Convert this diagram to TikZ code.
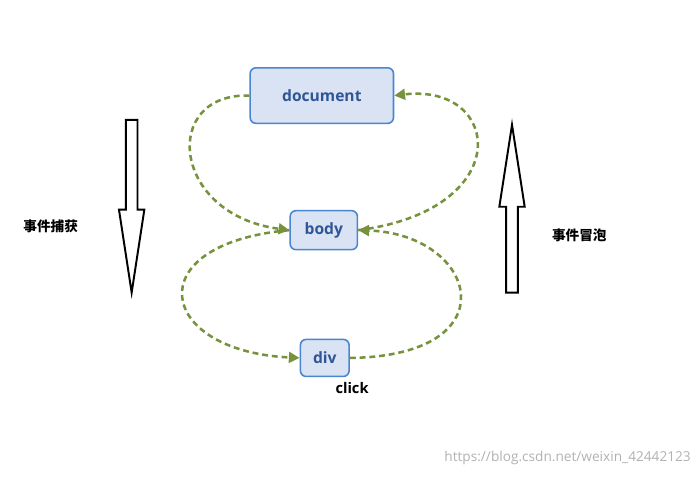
\documentclass[tikz,border=0pt]{standalone}
\usepackage{fontspec}
\setmainfont{Open Sans}
\newfontfamily\cjk{Noto Sans CJK SC}
\usetikzlibrary{arrows.meta}
\definecolor{boxfill}{HTML}{DAE3F3}
\definecolor{boxline}{HTML}{4A86D0}
\definecolor{boxtext}{HTML}{2F5597}
\definecolor{flow}{HTML}{76923C}
\begin{document}
\begin{tikzpicture}[x=1pt,y=-1pt,
  elem/.style={draw=boxline,fill=boxfill,rounded corners=6pt,line width=1.6pt,text=boxtext,font=\bfseries\fontsize{16}{19}\selectfont},
  flowline/.style={draw=flow,line width=2.6pt,dash pattern=on 6pt off 4pt,-{Triangle[length=11pt,width=11pt]}},
  hollow/.style={draw=black,line width=2pt,fill=white}]

\fill[white] (0,0) rectangle (694,491);

\node[elem,minimum width=147pt,minimum height=57pt] (doc) at (330,98) {document};
\node[elem,minimum width=69pt,minimum height=40pt] (body) at (332,236) {body};
\node[elem,minimum width=50pt,minimum height=38pt] (div) at (333,367) {div};
\node[font=\bfseries\fontsize{15}{18}\selectfont] (click) at (361,398) {click};

% hollow arrows
\draw[hollow] (129,123) -- (141,123) -- (141,215) -- (148,215) -- (135,300) -- (122,215) -- (129,215) -- cycle;
\draw[hollow] (519,300) -- (531,300) -- (531,212) -- (538,212) -- (525,128) -- (512,212) -- (519,212) -- cycle;

\node[font=\cjk\bfseries\fontsize{14}{17}\selectfont] (capture) at (52,232) {事件捕获};
\node[font=\cjk\bfseries\fontsize{14}{17}\selectfont] (bubble) at (594,241) {事件冒泡};

% event flow
\draw[flowline] (doc.west) .. controls (165,95) and (175,220) .. (body.west);
\draw[flowline] (body.east) .. controls (530,215) and (515,85) .. (doc.east);
\draw[flowline] (body.west) .. controls (140,250) and (160,360) .. (div.west);
\draw[flowline] (div.east) .. controls (525,365) and (490,240) .. (body.east);

\node[text=gray!60,font=\fontsize{14}{17}\selectfont] (mark) at (582,470) {https://blog.csdn.net/weixin\_42442123};
\end{tikzpicture}
\end{document}
